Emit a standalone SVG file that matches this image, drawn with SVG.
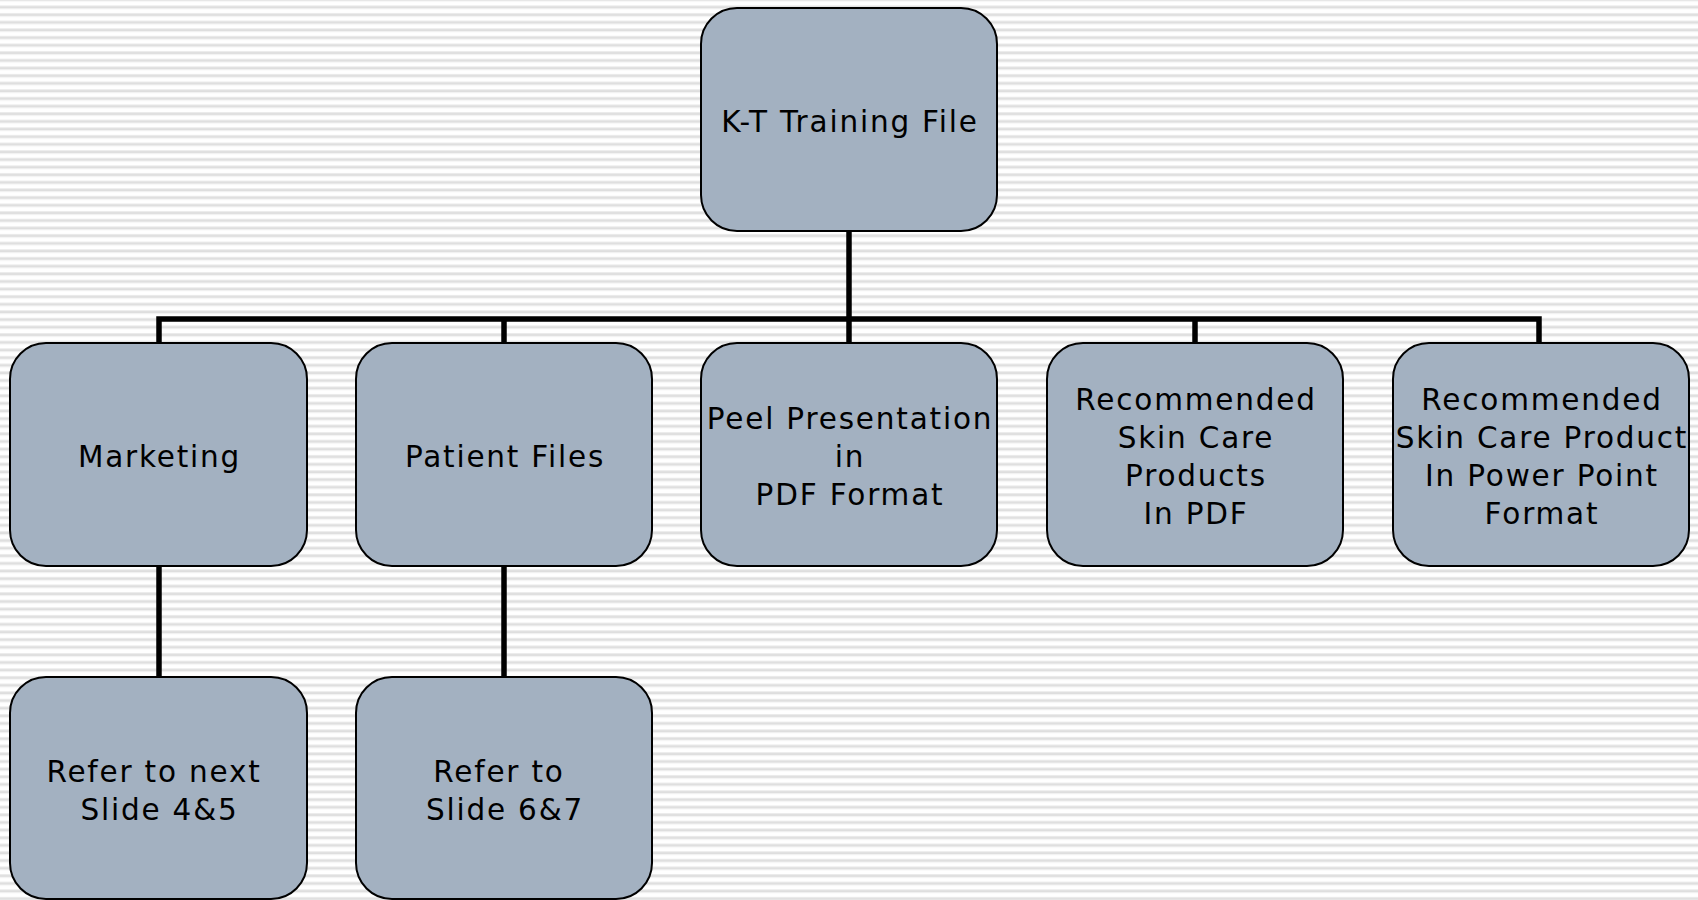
<svg xmlns="http://www.w3.org/2000/svg" width="1698" height="900" viewBox="0 0 1698 900">
<style>
.box{fill:#a3b1c1;stroke:#000;stroke-width:2}
.lbl{font-family:"DejaVu Sans",Verdana,sans-serif;font-size:29.5px;letter-spacing:1.8px;fill:#000;text-anchor:middle}
.conn{fill:none;stroke:#000;stroke-width:5.5}
</style>
<defs>
<pattern id="stripes" patternUnits="userSpaceOnUse" x="0" y="5.3" width="20" height="7.62">
<rect x="0" y="0" width="20" height="1" fill="#ececec"/>
<rect x="0" y="1" width="20" height="2" fill="#dedede"/>
<rect x="0" y="3" width="20" height="1" fill="#efefef"/>
</pattern>
</defs>
<rect x="0" y="0" width="1698" height="900" fill="#ffffff"/>
<rect x="0" y="0" width="1698" height="900" fill="url(#stripes)"/>
<g id="connectors">
<path class="conn" d="M849 231 V319"/>
<path class="conn" d="M159 343 V319 H1539 V343"/>
<path class="conn" d="M504 319 V343"/>
<path class="conn" d="M849 319 V343"/>
<path class="conn" d="M1195 319 V343"/>
<path class="conn" d="M159 566 V677"/>
<path class="conn" d="M504 566 V677"/>
</g>
<g id="node-root">
<rect class="box" x="701" y="8" width="296" height="223" rx="36"/>
<text class="lbl" x="850" y="132">K-T Training File</text>
</g>
<g id="node-marketing">
<rect class="box" x="10" y="343" width="297" height="223" rx="36"/>
<text class="lbl" x="159.5" y="467">Marketing</text>
</g>
<g id="node-patient">
<rect class="box" x="356" y="343" width="296" height="223" rx="36"/>
<text class="lbl" x="505" y="467">Patient Files</text>
</g>
<g id="node-peel">
<rect class="box" x="701" y="343" width="296" height="223" rx="36"/>
<text class="lbl" x="850" y="429">Peel Presentation</text>
<text class="lbl" x="850" y="467">in</text>
<text class="lbl" x="850" y="505">PDF Format</text>
</g>
<g id="node-recpdf">
<rect class="box" x="1047" y="343" width="296" height="223" rx="36"/>
<text class="lbl" x="1196" y="410">Recommended</text>
<text class="lbl" x="1196" y="448">Skin Care</text>
<text class="lbl" x="1196" y="486">Products</text>
<text class="lbl" x="1196" y="524">In PDF</text>
</g>
<g id="node-recppt">
<rect class="box" x="1393" y="343" width="296" height="223" rx="36"/>
<text class="lbl" x="1542" y="410">Recommended</text>
<text class="lbl" x="1542" y="448">Skin Care Product</text>
<text class="lbl" x="1542" y="486">In Power Point</text>
<text class="lbl" x="1542" y="524">Format</text>
</g>
<g id="node-refer45">
<rect class="box" x="10" y="677" width="297" height="222" rx="36"/>
<text class="lbl" x="154" y="782">Refer to next</text>
<text class="lbl" x="159.5" y="820">Slide 4&amp;5</text>
</g>
<g id="node-refer67">
<rect class="box" x="356" y="677" width="296" height="222" rx="36"/>
<text class="lbl" x="499" y="782">Refer to</text>
<text class="lbl" x="505" y="820">Slide 6&amp;7</text>
</g>
</svg>
